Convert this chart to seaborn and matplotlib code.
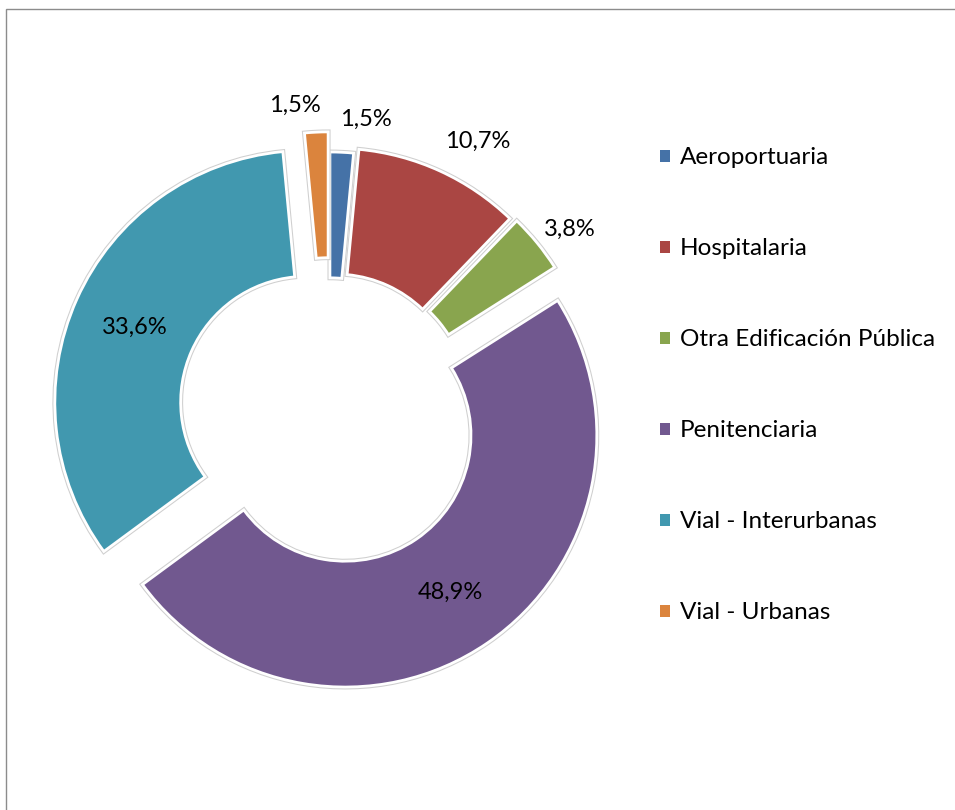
import matplotlib.pyplot as plt
import matplotlib.patheffects as pe
from matplotlib.patches import Patch, Rectangle
import seaborn as sns

categories = ['Aeroportuaria', 'Hospitalaria', 'Otra Edificación Pública',
              'Penitenciaria', 'Vial - Interurbanas', 'Vial - Urbanas']
shares = [1.5, 10.7, 3.8, 48.9, 33.6, 1.5]

sns.set_theme(style='white')
plt.rcParams['font.family'] = ['Lato', 'DejaVu Sans']
plt.rcParams['text.color'] = 'black'

colors = sns.color_palette(['#4572A7', '#AA4643', '#89A54E',
                            '#71588F', '#4198AF', '#DB843D'])
explode = [0.035, 0.055, 0.065, 0.11, 0.10, 0.115]
# label spots (x, y) in units of the outer radius
label_pos = [(0.145, 1.166), (0.59, 1.079), (0.955, 0.729),
             (0.479, -0.713), (-0.773, 0.34), (-0.137, 1.222)]

fig = plt.figure(figsize=(9.55, 8.1), dpi=100)
ax = fig.add_axes([0, 0, 1, 1])

wedges, _ = ax.pie(shares, colors=colors, explode=explode, startangle=90,
                   counterclock=False, radius=1,
                   wedgeprops=dict(width=0.5, edgecolor='white', linewidth=2))
for w in wedges:
    w.set_path_effects([pe.Stroke(linewidth=3.5, foreground='#cfcfcf'), pe.Normal()])

for v, (x, y) in zip(shares, label_pos):
    ax.text(x, y, f'{v:.1f}'.replace('.', ',') + '%', ha='center', va='center',
            fontsize=17, color='black')

# center of donut at (329.5, 412.5) px, radius 251.7 px
ax.set_xlim(-329.5 / 251.7, (955 - 329.5) / 251.7)
ax.set_ylim(-(810 - 412.5) / 251.7, 412.5 / 251.7)
ax.set_aspect('auto')
ax.axis('off')

handles = [Patch(facecolor=c, edgecolor='none') for c in colors]
fig.legend(handles, categories, loc='upper left', bbox_to_anchor=(0.681, 0.83),
           frameon=False, fontsize=17.5, handlelength=0.41, handleheight=0.41,
           handletextpad=0.4, labelspacing=2.88, borderaxespad=0,
           labelcolor='black')

fig.patches.append(Rectangle((6 / 955, -0.1), 1.2, 1.1 - 9 / 810, fill=False,
                             edgecolor='#8c8c8c', linewidth=1,
                             transform=fig.transFigure, figure=fig))

fig.savefig('out.png', dpi=100)
